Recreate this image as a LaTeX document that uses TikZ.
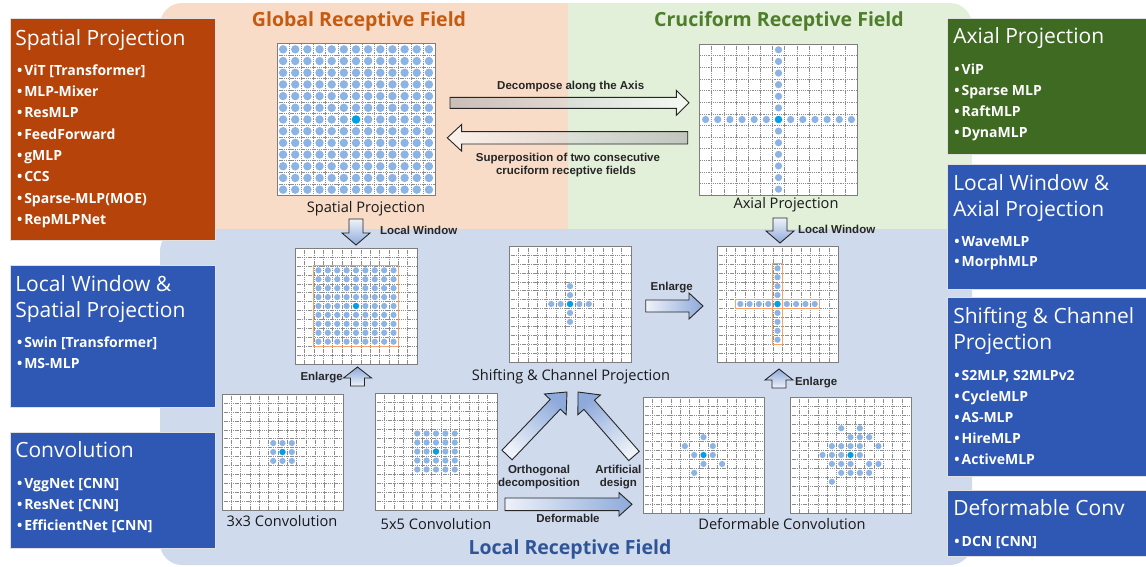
\documentclass[tikz,border=0pt]{standalone}
\usepackage{fontspec}
\setmainfont{Open Sans}
\newfontfamily\labelfont{Liberation Sans}
\usetikzlibrary{calc}

\definecolor{peachbg}{HTML}{F8DCC8}
\definecolor{greenbg}{HTML}{E2EFD9}
\definecolor{bluebg}{HTML}{CFDAED}
\definecolor{orangebox}{HTML}{B5430A}
\definecolor{greenbox}{HTML}{3F6A22}
\definecolor{bluebox}{HTML}{2E58B3}
\definecolor{globaltitle}{HTML}{C55A11}
\definecolor{crucititle}{HTML}{4E7D2C}
\definecolor{localtitle}{HTML}{2F5597}
\definecolor{dotlight}{HTML}{8CB4E4}
\definecolor{dotcentre}{HTML}{00A0E9}
\definecolor{gridgray}{HTML}{8C8C8C}
\definecolor{winorange}{HTML}{F4A46A}
\definecolor{arrowlight}{HTML}{EEF2F9}
\definecolor{arrowdark}{HTML}{8EAADB}

% 13 x 13 cell grid: name, left, top, width, height, contents (in cell units)
\newcommand{\cellgrid}[6]{%
  \node[gridfill, minimum width=#4pt, minimum height=#5pt] (#1) at (#2,#3) {};
  \pgfmathsetmacro\gcw{#4/13}\pgfmathsetmacro\gch{#5/13}
  \begin{scope}[shift={(#2,#3)}, x=\gcw pt, y=-\gch pt]
    \foreach \k in {1,...,12}{
      \draw[gridline] (\k,0) -- (\k,13);
      \draw[gridline] (0,\k) -- (13,\k);}
    #6
  \end{scope}
  \draw[gridborder] (#1.north west) rectangle (#1.south east);
}
\def\dotrad{3.1pt}
\newcommand{\dotat}[2]{\fill[dotc] (#1+0.5,#2+0.5) circle[radius=\dotrad];}
\newcommand{\centreat}[2]{\fill[dotctr] (#1+0.5,#2+0.5) circle[radius=\dotrad];}

% block arrow: style, tail, tip, shaft half-width, head half-width, head length
\newcommand{\blockarrow}[6]{%
  \path let \p1=(#2), \p2=(#3),
    \n1={atan2(\y2-\y1,\x2-\x1)}, \n2={veclen(\x2-\x1,\y2-\y1)} in
    \pgfextra{\xdef\baAng{\n1}\xdef\baLen{\n2}\xdef\baX{\x1}\xdef\baY{\y1}};
  \pgfmathsetmacro\baShade{\baAng+90}
  \pgfmathsetmacro\baNeck{\baLen-#6}
  \begin{scope}[shift={(\baX,\baY)}, rotate=\baAng, x=1pt, y=1pt]
    \draw[#1, shading angle=\baShade] (0,#4) -- (\baNeck,#4) -- (\baNeck,#5) -- (\baLen,0)
      -- (\baNeck,-#5) -- (\baNeck,-#4) -- (0,-#4) -- cycle;
  \end{scope}}

\begin{document}
\begin{tikzpicture}[x=1pt, y=-1pt,
  every node/.style={inner sep=0pt, outer sep=0pt},
  region title/.style={font=\bfseries\fontsize{19.5}{22}\selectfont, anchor=base},
  card/.style={draw=white!88!black, line width=0.8pt, anchor=north west},
  card title/.style={anchor=base west, text=white, font=\fontsize{21}{24}\selectfont},
  card item/.style={anchor=base west, text=white, font=\bfseries\fontsize{14}{16}\selectfont},
  grid label/.style={anchor=base, text=black!90, font=\fontsize{14.6}{17}\selectfont},
  arrow label/.style={anchor=base, text=black!85, font=\labelfont\bfseries\fontsize{11.5}{13}\selectfont},
  gridfill/.style={fill=white, anchor=north west},
  gridline/.style={draw=gridgray, line width=0.35pt, dash pattern=on 1.3pt off 0.9pt},
  gridborder/.style={draw=gridgray!90!black, line width=0.7pt},
  dotc/.style={fill=dotlight},
  dotctr/.style={fill=dotcentre},
  window/.style={draw=winorange, line width=0.9pt},
  hollow arrow/.style={draw=black!85, line width=0.9pt, fill=white, fill opacity=0.4},
  shaded arrow/.style={draw=black!85, line width=0.9pt, top color=arrowlight, bottom color=arrowdark},
]
\useasboundingbox (0,0) rectangle (1146,566);

% ---------- receptive-field regions ----------
\begin{scope}
  \clip[rounded corners=22] (160,3) rectangle (972,229);
  \fill[peachbg] (160,3) rectangle (568,229);
  \fill[greenbg] (568,3) rectangle (972,229);
\end{scope}
\fill[bluebg, rounded corners=22] (160,229) rectangle (972,565);

\node[region title, text=globaltitle] (globaltitle) at (359,26.7) {Global Receptive Field};
\node[region title, text=crucititle] (crucititle) at (779,26.7) {Cruciform Receptive Field};
\node[region title, text=localtitle] (localtitle) at (570,554) {Local Receptive Field};

% ---------- grids ----------
\cellgrid{global}{277}{43.5}{158}{152}{%
  \def\dotrad{4.2pt}
  \foreach \i in {0,...,12}{\foreach \j in {0,...,12}{\dotat{\i}{\j}}}
  \centreat{6}{6}}
\node[grid label] (globallabel) at (366,212) {Spatial Projection};

\cellgrid{axial}{699.5}{44}{158}{151}{%
  \def\dotrad{3.6pt}
  \foreach \i in {0,...,12}{\dotat{\i}{6}\dotat{6}{\i}}
  \centreat{6}{6}}
\node[grid label] (axiallabel) at (786,208.5) {Axial Projection};

\cellgrid{window}{295}{248}{122}{116}{%
  \foreach \i in {2,...,10}{\foreach \j in {2,...,10}{\dotat{\i}{\j}}}
  \centreat{6}{6}
  \draw[window] (2,2) rectangle (11,11);}

\cellgrid{shift}{509}{246}{122}{116}{%
  \foreach \i in {4,...,8}{\dotat{\i}{6}\dotat{6}{\i}}
  \centreat{6}{6}}
\node[grid label] (shiftlabel) at (571,380) {Shifting \& Channel Projection};

\cellgrid{cross}{717}{246}{121}{116}{%
  \foreach \i in {2,...,10}{\dotat{\i}{6}\dotat{6}{\i}}
  \centreat{6}{6}
  \draw[window] (2,6) rectangle (11,7);
  \draw[window] (6,2) rectangle (7,11);}

\cellgrid{convthree}{222}{394}{121}{116}{%
  \foreach \i in {5,6,7}{\foreach \j in {5,6,7}{\dotat{\i}{\j}}}
  \centreat{6}{6}}
\node[grid label] (convthreelabel) at (282,526.7) {3x3 Convolution};

\cellgrid{convfive}{375}{393}{122}{117}{%
  \foreach \i in {4,...,8}{\foreach \j in {4,...,8}{\dotat{\i}{\j}}}
  \centreat{6}{6}}
\node[grid label] (convfivelabel) at (436,529) {5x5 Convolution};

\cellgrid{deformA}{643}{397}{121}{116}{%
  \foreach \c/\r in {6/4, 4/5, 7/5, 5/6, 7/6, 6/7, 8/7, 5/8}{\dotat{\c}{\r}}
  \centreat{6}{6}}
\cellgrid{deformB}{790}{397}{121}{116}{%
  \foreach \c/\r in {5/3, 7/3, 6/4, 7/4, 8/4, 4/5, 5/5, 6/5, 7/5, 9/5,
                     3/6, 4/6, 5/6, 7/6, 4/7, 5/7, 6/7, 8/7, 9/7,
                     5/8, 6/8, 7/8, 8/8, 4/9}{\dotat{\c}{\r}}
  \centreat{6}{6}}
\node[grid label] (deformlabel) at (782,529.3) {Deformable Convolution};

% ---------- arrows between the receptive fields ----------
\coordinate (decomp-tail) at (450,102.8);
\coordinate (decomp-tip)  at (689,102.8);
\coordinate (super-tail)  at (687.7,137.8);
\coordinate (super-tip)   at (447.3,137.8);
\blockarrow{hollow arrow}{decomp-tail}{decomp-tip}{5.5}{12.5}{12.7}
\blockarrow{hollow arrow}{super-tail}{super-tip}{6.2}{13.3}{14.3}
\node[arrow label] (decomplabel) at (570.7,89.3) {Decompose along the Axis};
\node[arrow label] (superlabel1) at (568,161.7) {Superposition of two consecutive};
\node[arrow label] (superlabel2) at (566,174.8) {cruciform receptive fields};

\coordinate (lwA-tail) at (356,219);   \coordinate (lwA-tip) at (356,245);
\coordinate (lwB-tail) at (780,218);   \coordinate (lwB-tip) at (780,243);
\blockarrow{shaded arrow}{lwA-tail}{lwA-tip}{7}{14}{12}
\blockarrow{shaded arrow}{lwB-tail}{lwB-tip}{7}{14}{12}
\node[arrow label, anchor=base west] (lwAlabel) at (380,234) {Local Window};
\node[arrow label, anchor=base west] (lwBlabel) at (798,233) {Local Window};

\coordinate (enA-tail) at (357.5,386); \coordinate (enA-tip) at (357.5,367);
\coordinate (enB-tail) at (779,388);   \coordinate (enB-tip) at (779,369);
\blockarrow{shaded arrow}{enA-tail}{enA-tip}{7}{14}{11}
\blockarrow{shaded arrow}{enB-tail}{enB-tip}{7}{14}{11}
\node[arrow label, anchor=base west] (enAlabel) at (300.5,380.5) {Enlarge};
\node[arrow label, anchor=base west] (enBlabel) at (795,385) {Enlarge};

\coordinate (enC-tail) at (645.7,306); \coordinate (enC-tip) at (703,306);
\blockarrow{shaded arrow}{enC-tail}{enC-tip}{6}{13}{14}
\node[arrow label] (enClabel) at (671.7,290) {Enlarge};

\coordinate (orth-tail) at (507,455);  \coordinate (orth-tip) at (567,392);
\coordinate (art-tail)  at (634,456);  \coordinate (art-tip)  at (578,392);
\blockarrow{shaded arrow}{orth-tail}{orth-tip}{7}{15}{17}
\blockarrow{shaded arrow}{art-tail}{art-tip}{7}{15}{17}
\node[arrow label] (orthlabel1) at (539,473.3) {Orthogonal};
\node[arrow label] (orthlabel2) at (539,486) {decomposition};
\node[arrow label] (artlabel1) at (618.4,473.3) {Artificial};
\node[arrow label] (artlabel2) at (618.4,486) {design};

\coordinate (def-tail) at (505,504.3); \coordinate (def-tip) at (632,504.3);
\blockarrow{shaded arrow}{def-tail}{def-tip}{6.3}{11.7}{13}
\node[arrow label] (deflabel) at (568,522.7) {Deformable};

% ---------- method cards, left ----------
\node[card, fill=orangebox, minimum width=205pt, minimum height=222pt] (spatialcard) at (10,18) {};
\node[card title] (spatialcard-t) at (15.3,45) {Spatial Projection};
\foreach \t [count=\i from 0] in {ViT [Transformer], MLP-Mixer, ResMLP, FeedForward, gMLP, CCS, Sparse-MLP(MOE), RepMLPNet}
  \node[card item] (spatialcard-\i) at (17,75.3+21.33*\i) {•\hspace{2pt}\t};

\node[card, fill=bluebox, minimum width=205pt, minimum height=142pt] (swincard) at (10,265) {};
\node[card title] (swincard-t1) at (15.3,291) {Local Window \&};
\node[card title] (swincard-t2) at (15.3,317) {Spatial Projection};
\foreach \t [count=\i from 0] in {Swin [Transformer], MS-MLP}
  \node[card item] (swincard-\i) at (17,347+21*\i) {•\hspace{2pt}\t};

\node[card, fill=bluebox, minimum width=205pt, minimum height=116pt] (convcard) at (10,432) {};
\node[card title] (convcard-t) at (15.3,457) {Convolution};
\foreach \t [count=\i from 0] in {VggNet [CNN], ResNet [CNN], EfficientNet [CNN]}
  \node[card item] (convcard-\i) at (17,488+21*\i) {•\hspace{2pt}\t};

% ---------- method cards, right ----------
\node[card, fill=greenbox, minimum width=199pt, minimum height=136pt] (axialcard) at (947,18.3) {};
\node[card title] (axialcard-t) at (953.3,43.3) {Axial Projection};
\foreach \t [count=\i from 0] in {ViP, Sparse MLP, RaftMLP, DynaMLP}
  \node[card item] (axialcard-\i) at (954.4,74+21.1*\i) {•\hspace{2pt}\t};

\node[card, fill=bluebox, minimum width=199pt, minimum height=125pt] (wavecard) at (947,164.3) {};
\node[card title] (wavecard-t1) at (953.3,190) {Local Window \&};
\node[card title] (wavecard-t2) at (953.3,216) {Axial Projection};
\foreach \t [count=\i from 0] in {WaveMLP, MorphMLP}
  \node[card item] (wavecard-\i) at (954.4,246+20.7*\i) {•\hspace{2pt}\t};

\node[card, fill=bluebox, minimum width=199pt, minimum height=179pt] (shiftcard) at (947,297.3) {};
\node[card title] (shiftcard-t1) at (953.3,323.3) {Shifting \& Channel};
\node[card title] (shiftcard-t2) at (953.3,349) {Projection};
\foreach \t [count=\i from 0] in {{S2MLP, S2MLPv2}, CycleMLP, AS-MLP, HireMLP, ActiveMLP}
  \node[card item] (shiftcard-\i) at (954.4,380+21.2*\i) {•\hspace{2pt}\t};

\node[card, fill=bluebox, minimum width=199pt, minimum height=66pt] (dcncard) at (947,490) {};
\node[card title] (dcncard-t) at (953.3,515.7) {Deformable Conv};
\node[card item] (dcncard-0) at (954.4,546) {•\hspace{2pt}DCN [CNN]};
\end{tikzpicture}
\end{document}
